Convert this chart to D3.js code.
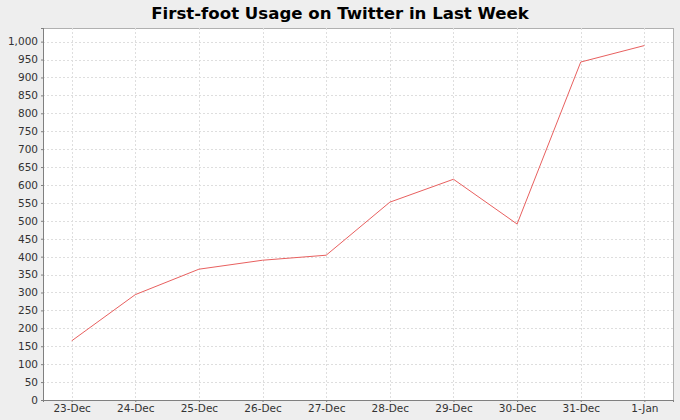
<!DOCTYPE html>
<html>
<head>
<meta charset="utf-8">
<script src="https://cdn.jsdelivr.net/npm/d3@7"></script>
<style>
  body { margin: 0; background: #eeeeee; }
  svg { display: block; font-family: "DejaVu Sans", sans-serif; }
</style>
</head>
<body>
<svg id="chart" width="680" height="420"></svg>
<script>
// data
const days = ["23-Dec", "24-Dec", "25-Dec", "26-Dec", "27-Dec", "28-Dec", "29-Dec", "30-Dec", "31-Dec", "1-Jan"];
const usage = [165, 294, 365, 390, 404, 552, 616, 491, 943, 989];
const yTicks = d3.range(0, 1001, 50);

const width = 680;
const height = 420;
const margin = { top: 28, right: 7, bottom: 20, left: 43 };
const plotW = width - margin.left - margin.right;
const plotH = height - margin.top - margin.bottom;

const svg = d3.select("#chart");

svg.append("rect")
  .attr("width", width)
  .attr("height", height)
  .attr("fill", "#eeeeee");

svg.append("text")
  .attr("x", width / 2)
  .attr("y", 19)
  .attr("text-anchor", "middle")
  .attr("font-size", "16.6px")
  .attr("font-weight", "bold")
  .attr("fill", "#000")
  .text("First-foot Usage on Twitter in Last Week");

let x = d3.scalePoint()
  .domain(days)
  .range([0, plotW])
  .padding(0.45);

let y = d3.scaleLinear()
  .domain([0, 1038])
  .range([plotH, 0]);

let plot = svg.append("g")
  .attr("transform", `translate(${margin.left}, ${margin.top})`);

plot.append("rect")
  .attr("width", plotW)
  .attr("height", plotH)
  .attr("fill", "#ffffff")
  .attr("stroke", "#b0b0b0")
  .attr("stroke-width", 1)
  .attr("shape-rendering", "crispEdges");

// grid
plot.append("g")
  .selectAll("line")
  .data(yTicks.slice(1))
  .enter().append("line")
  .attr("x1", 0)
  .attr("x2", plotW)
  .attr("y1", d => Math.round(y(d)) + 0.5)
  .attr("y2", d => Math.round(y(d)) + 0.5)
  .attr("stroke", "#dedede")
  .attr("stroke-dasharray", "2,2");

plot.append("g")
  .selectAll("line")
  .data(days)
  .enter().append("line")
  .attr("x1", d => Math.round(x(d)) + 0.5)
  .attr("x2", d => Math.round(x(d)) + 0.5)
  .attr("y1", 0)
  .attr("y2", plotH)
  .attr("stroke", "#dedede")
  .attr("stroke-dasharray", "2,2");

// axes
let yAxis = d3.axisLeft(y)
  .tickValues(yTicks)
  .tickSize(2)
  .tickPadding(3)
  .tickFormat(d3.format(","));

let xAxis = d3.axisBottom(x)
  .tickSize(2)
  .tickPadding(3);

let gy = plot.append("g").call(yAxis);
let gx = plot.append("g")
  .attr("transform", `translate(0, ${plotH})`)
  .call(xAxis);

[gx, gy].forEach(g => {
  g.select(".domain").attr("stroke", "#808080").attr("shape-rendering", "crispEdges");
  g.selectAll(".tick line").attr("stroke", "#808080");
  g.selectAll(".tick text")
    .attr("font-size", "10.5px")
    .attr("font-family", "'DejaVu Sans', sans-serif")
    .attr("fill", "#333");
});

// series
let line = d3.line()
  .x((d, i) => x(days[i]))
  .y(d => y(d));

plot.append("path")
  .datum(usage)
  .attr("d", line)
  .attr("fill", "none")
  .attr("stroke", "#e8605f")
  .attr("stroke-width", 1);
</script>
</body>
</html>
